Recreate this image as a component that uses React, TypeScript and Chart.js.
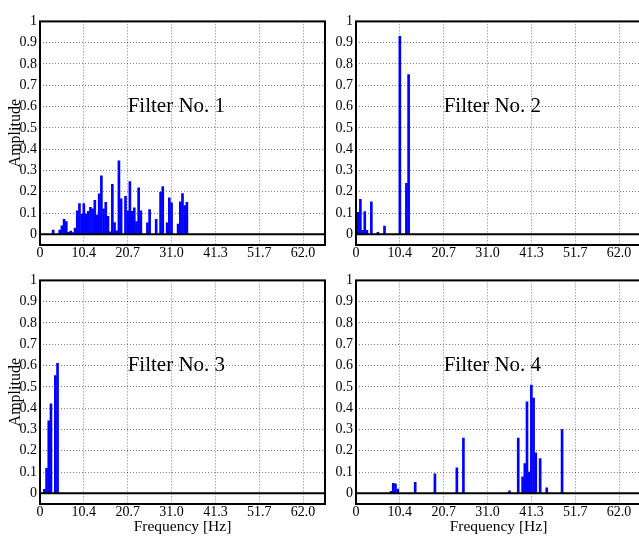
import React, { useEffect, useRef } from "react";
import { Chart, registerables } from "chart.js";

Chart.register(...registerables);

// x axis is in frequency-bin units; tick labels give the frequency in Hz
const X_MIN = 0;
const X_MAX = 130;
const X_TICK_BINS = [0, 20, 40, 60, 80, 100, 120];
const X_TICK_LABELS = ["0", "10.4", "20.7", "31.0", "41.3", "51.7", "62.0"];
const Y_MIN = -0.05;
const Y_MAX = 1;
const Y_TICKS = [0, 0.1, 0.2, 0.3, 0.4, 0.5, 0.6, 0.7, 0.8, 0.9, 1];
const Y_TICK_LABELS = ["0", "0.1", "0.2", "0.3", "0.4", "0.5", "0.6", "0.7", "0.8", "0.9", "1"];

const PANEL_TITLES = ["Filter No. 1", "Filter No. 2", "Filter No. 3", "Filter No. 4"];
const TITLE_X_BIN = 40;
const TITLE_Y = 0.6;

const F1_BINS = [6, 9, 10, 11, 12, 13, 14, 15, 16, 17, 18, 19, 20, 21, 22, 23, 24, 25, 26, 27, 28, 29, 30, 31, 32, 33, 34, 35, 36, 37, 39, 40, 41, 42, 43, 44, 45, 46, 49, 50, 53, 55, 56, 58, 59, 60, 63, 64, 65, 66, 67];
const F1_AMPS = [0.02, 0.02, 0.04, 0.07, 0.06, 0.01, 0.015, 0.008, 0.03, 0.11, 0.145, 0.095, 0.145, 0.095, 0.108, 0.127, 0.12, 0.16, 0.09, 0.19, 0.275, 0.12, 0.15, 0.085, 0.012, 0.235, 0.055, 0.017, 0.345, 0.167, 0.178, 0.11, 0.248, 0.108, 0.125, 0.06, 0.218, 0.11, 0.054, 0.116, 0.071, 0.198, 0.224, 0.054, 0.172, 0.148, 0.048, 0.153, 0.192, 0.135, 0.15];

const F2_BINS = [1, 2, 3, 4, 5, 7, 10, 13, 20, 23, 24];
const F2_AMPS = [0.104, 0.164, 0.019, 0.107, 0.019, 0.153, 0.01, 0.039, 0.93, 0.24, 0.75];

const F3_BINS = [2, 3, 4, 5, 7, 8];
const F3_AMPS = [0.019, 0.118, 0.34, 0.42, 0.553, 0.61];

const F4_BINS = [16, 17, 18, 19, 27, 36, 46, 49, 70, 74, 76, 77, 78, 79, 80, 81, 82, 84, 87, 94];
const F4_AMPS = [0.01, 0.047, 0.045, 0.02, 0.052, 0.092, 0.12, 0.26, 0.012, 0.26, 0.078, 0.14, 0.43, 0.1, 0.508, 0.447, 0.19, 0.163, 0.026, 0.3];

const SERIES = [
  { bins: F1_BINS, amps: F1_AMPS },
  { bins: F2_BINS, amps: F2_AMPS },
  { bins: F3_BINS, amps: F3_AMPS },
  { bins: F4_BINS, amps: F4_AMPS },
];

const FONT = '"Liberation Serif", "Times New Roman", serif';

type PanelLayout = {
  left: number; // page x of plot left
  top: number; // page y of plot top
  plotH: number;
  yTitle: boolean;
  xTitle: boolean;
};

const PLOT_W = 285;
const Y_AXIS_W = 40;
const PAD_TOP = 10;
const PAD_RIGHT = 4;

const LAYOUTS: PanelLayout[] = [
  { left: 40, top: 20, plotH: 225, yTitle: true, xTitle: false },
  { left: 356, top: 20, plotH: 225, yTitle: false, xTitle: false },
  { left: 40, top: 279, plotH: 225, yTitle: true, xTitle: true },
  { left: 356, top: 279, plotH: 225, yTitle: false, xTitle: true },
];

const decorPlugin = {
  id: "panelDecor",
  afterDraw(chart: any, _args: any, opts: any) {
    const { ctx, chartArea, scales } = chart;
    const { left, top, right, bottom } = chartArea;
    const x = scales.x;
    const y = scales.y;
    ctx.save();
    ctx.setLineDash([]);
    ctx.strokeStyle = "#000";
    ctx.lineWidth = 2;
    const y0 = y.getPixelForValue(0);
    ctx.beginPath();
    ctx.moveTo(left, y0);
    ctx.lineTo(right, y0);
    ctx.stroke();
    ctx.strokeRect(left, top, right - left, bottom - top);
    ctx.font = `21px ${FONT}`;
    ctx.fillStyle = "#000";
    ctx.textAlign = "left";
    ctx.textBaseline = "middle";
    ctx.fillText(opts.label, x.getPixelForValue(TITLE_X_BIN), y.getPixelForValue(TITLE_Y));
    ctx.restore();
  },
};

function Panel({ index }: { index: number }) {
  const ref = useRef<HTMLCanvasElement | null>(null);
  const lay = LAYOUTS[index];
  const xAxisH = lay.xTitle ? 34 : 22;
  const cw = Y_AXIS_W + PLOT_W + PAD_RIGHT;
  const ch = PAD_TOP + lay.plotH + xAxisH;

  useEffect(() => {
    if (!ref.current) return;
    const s = SERIES[index];
    const grid = {
      display: true,
      color: "rgba(0,0,0,0.5)",
      lineWidth: 1,
      drawTicks: false,
      offset: false,
    };
    const border = { display: false, dash: [1, 2] };
    const chart = new Chart(ref.current, {
      type: "bar",
      data: {
        datasets: [
          {
            data: s.bins.map((b, i) => ({ x: b, y: s.amps[i] })),
            backgroundColor: "#0000ff",
            borderWidth: 0,
            barThickness: 2,
          } as any,
        ],
      },
      options: {
        animation: false,
        responsive: false,
        devicePixelRatio: 1,
        events: [],
        layout: { padding: { top: PAD_TOP, right: PAD_RIGHT, left: 0, bottom: 0 } },
        plugins: {
          legend: { display: false },
          tooltip: { enabled: false },
          panelDecor: { label: PANEL_TITLES[index] },
        } as any,
        scales: {
          x: {
            type: "linear",
            min: X_MIN,
            max: X_MAX,
            offset: false,
            grid: grid as any,
            border: border as any,
            afterBuildTicks: (sc: any) => {
              sc.ticks = X_TICK_BINS.map((v) => ({ value: v }));
            },
            afterFit: (sc: any) => {
              sc.height = xAxisH;
            },
            ticks: {
              autoSkip: false,
              maxRotation: 0,
              padding: 0,
              color: "#000",
              font: { family: FONT, size: 14 },
              callback: (_v: any, i: number) => X_TICK_LABELS[i],
            },
            title: {
              display: lay.xTitle,
              text: "Frequency [Hz]",
              color: "#000",
              font: { family: FONT, size: 15.5 },
              padding: { top: 0, bottom: 2 },
            },
          },
          y: {
            type: "linear",
            min: Y_MIN,
            max: Y_MAX,
            grid: grid as any,
            border: border as any,
            afterBuildTicks: (sc: any) => {
              sc.ticks = Y_TICKS.map((v) => ({ value: v }));
            },
            afterFit: (sc: any) => {
              sc.width = Y_AXIS_W;
            },
            ticks: {
              autoSkip: false,
              padding: 3,
              color: "#000",
              font: { family: FONT, size: 14 },
              callback: (_v: any, i: number) => Y_TICK_LABELS[i],
            },
            title: {
              display: lay.yTitle,
              text: "Amplitude",
              color: "#000",
              font: { family: FONT, size: 16 },
              padding: { top: 6, bottom: 0 },
            },
          },
        },
      } as any,
      plugins: [decorPlugin],
    });
    return () => chart.destroy();
  }, [index]);

  return (
    <canvas
      ref={ref}
      width={cw}
      height={ch}
      style={{
        position: "absolute",
        left: lay.left - Y_AXIS_W,
        top: lay.top - PAD_TOP,
        width: cw,
        height: ch,
      }}
    />
  );
}

export default function App() {
  return (
    <div
      style={{
        position: "fixed",
        left: 0,
        top: 0,
        width: 639,
        height: 536,
        overflow: "hidden",
        background: "#fff",
      }}
    >
      {[0, 1, 2, 3].map((i) => (
        <Panel key={i} index={i} />
      ))}
    </div>
  );
}
